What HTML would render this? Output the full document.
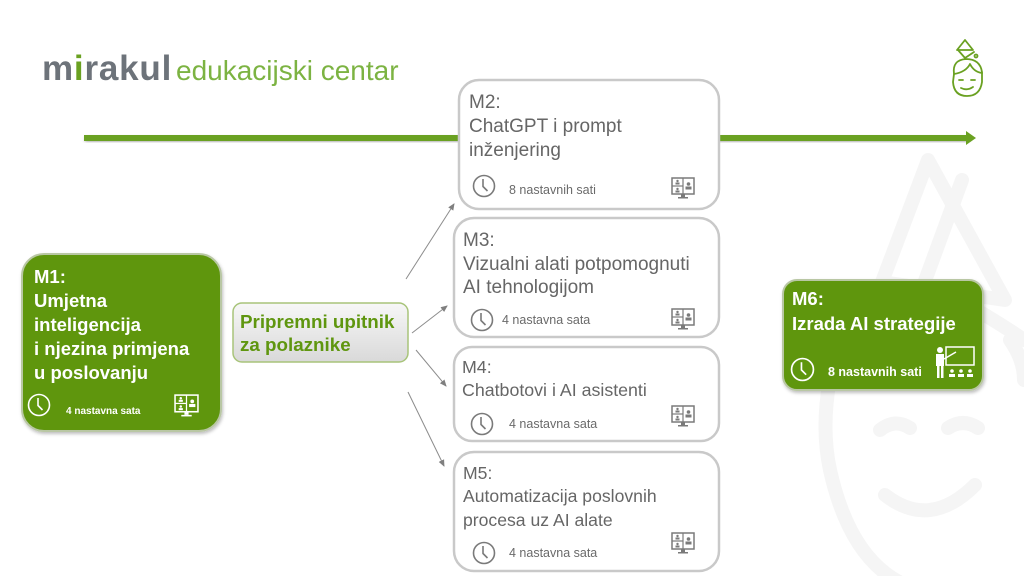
<!DOCTYPE html>
<html><head><meta charset="utf-8"><style>
html,body{margin:0;padding:0;background:#fff;width:1024px;height:576px;overflow:hidden}
svg{display:block}
text{font-family:"Liberation Sans",Arial,sans-serif}
</style></head><body>
<svg width="1024" height="576" viewBox="0 0 1024 576" xmlns="http://www.w3.org/2000/svg">
<defs>
  <symbol id="clk" viewBox="0 0 24 24">
    <circle cx="12" cy="12" r="10.5" fill="none" stroke="currentColor" stroke-width="1.6"/>
    <path d="M11 5 V12.5 L15.5 17" fill="none" stroke="currentColor" stroke-width="1.6"/>
  </symbol>
  <symbol id="mon" viewBox="0 0 24 22">
    <rect x="1" y="1" width="22" height="16" fill="none" stroke="currentColor" stroke-width="1.5"/>
    <line x1="12" y1="1" x2="12" y2="17" stroke="currentColor" stroke-width="1.2"/>
    <line x1="1" y1="9" x2="12" y2="9" stroke="currentColor" stroke-width="1.2"/>
    <circle cx="6.5" cy="4" r="1.2" fill="currentColor"/><rect x="4.5" y="5.5" width="4" height="2" fill="currentColor"/>
    <circle cx="6.5" cy="12" r="1.2" fill="currentColor"/><rect x="4.5" y="13.5" width="4" height="2" fill="currentColor"/>
    <circle cx="17.5" cy="7" r="1.8" fill="currentColor"/><rect x="14.5" y="9.5" width="6" height="3" fill="currentColor"/>
    <rect x="10" y="17" width="4" height="3" fill="currentColor"/><rect x="7" y="20" width="10" height="1.5" fill="currentColor"/>
  </symbol>
  <marker id="ah" markerWidth="8" markerHeight="8" refX="6" refY="4" orient="auto" markerUnits="userSpaceOnUse">
    <path d="M0,1 L7,4 L0,7 Z" fill="#7f7f7f"/>
  </marker>
  <linearGradient id="pg" x1="0" y1="0" x2="0" y2="1">
    <stop offset="0" stop-color="#f7f7f7"/><stop offset="1" stop-color="#d9d9d9"/>
  </linearGradient>
  <filter id="sh" x="-10%" y="-10%" width="120%" height="130%"><feDropShadow dx="1" dy="2" stdDeviation="1.5" flood-color="#000" flood-opacity="0.25"/></filter>
</defs>

<!-- watermark -->
<g fill="none" stroke="#f5f5f5" stroke-width="14" stroke-linejoin="round" stroke-linecap="round">
  <path d="M928 160 L882 282 L1005 300 Z"/>
  <path d="M962 180 L918 300"/>
  <path d="M980 312 Q1010 330 1024 340"/>
  <path d="M850 310 Q815 400 830 470 Q850 560 905 585"/>
  <path d="M1010 340 Q1024 360 1024 380"/>
  <path d="M880 430 Q895 418 910 428"/>
  <path d="M948 428 Q963 418 978 428"/>
  <path d="M885 495 Q930 530 975 485"/>
</g>

<!-- logo -->
<text x="42" y="80" font-size="35" font-weight="bold" fill="#6d737a" letter-spacing="0.8">m<tspan fill="#6aa121">i</tspan>rakul</text>
<text x="176" y="80" font-size="28" fill="#7cb342">edukacijski centar</text>

<!-- top icon -->
<g fill="none" stroke="#6aa121" stroke-width="1.8" stroke-linejoin="round" stroke-linecap="round">
  <path d="M965 40 L957 50 L973 50 Z"/><path d="M958 50 L965 58 L974 52"/><circle cx="976" cy="56" r="1.5"/>
  <path d="M954 74 Q952 60 966 59 Q980 59 982 72 L982 82 Q980 96 967 96 Q954 96 953 82 Z"/>
  <path d="M954 74 Q966 72 970 64 Q974 72 982 73"/>
  <path d="M959 80 L963 80 M971 80 L975 80"/>
  <path d="M961 88 Q967 91 973 87"/>
</g>

<!-- main arrow -->
<rect x="84" y="135" width="884" height="6" fill="#6aa121" filter="url(#sh)"/>
<path d="M966 131 L976 138 L966 145 Z" fill="#6aa121"/>

<!-- M1 -->
<rect x="22" y="254" width="199" height="177" rx="22" fill="#5f960f" stroke="#b9c7a4" stroke-width="2" filter="url(#sh)"/>
<g fill="#fff" font-weight="bold" font-size="18.5">
  <text x="34" y="283">M1:</text>
  <text x="34" y="307">Umjetna</text>
  <text x="34" y="331">inteligencija</text>
  <text x="34" y="355">i njezina primjena</text>
  <text x="34" y="379">u  poslovanju</text>
</g>
<use href="#clk" x="27" y="393" width="24" height="24" color="#fff"/>
<text x="66" y="414" font-size="10" font-weight="bold" fill="#fff">4 nastavna sata</text>
<use href="#mon" x="174" y="394" width="25" height="23" color="#fff"/>

<!-- Pripremni -->
<rect x="233" y="303" width="175" height="59" rx="9" fill="url(#pg)" stroke="#a8c47a" stroke-width="1.5"/>
<text x="240" y="328" font-size="18.8" font-weight="bold" fill="#5f960f">Pripremni upitnik</text>
<text x="240" y="351" font-size="18.8" font-weight="bold" fill="#5f960f">za polaznike</text>

<!-- connectors -->
<g stroke="#8c8c8c" stroke-width="1" marker-end="url(#ah)">
  <line x1="406" y1="279" x2="454" y2="204"/>
  <line x1="412" y1="333" x2="447" y2="306"/>
  <line x1="416" y1="350" x2="446" y2="386"/>
  <line x1="408" y1="392" x2="444" y2="466"/>
</g>

<!-- M2-M5 -->
<g fill="#fff" stroke="#c9c9c9" stroke-width="2.5">
  <rect x="459" y="80" width="260" height="129" rx="20"/>
  <rect x="454" y="218" width="265" height="119" rx="20"/>
  <rect x="454" y="347" width="265" height="94" rx="18"/>
  <rect x="454" y="452" width="265" height="119" rx="20"/>
</g>
<g fill="#666" font-size="19">
  <text x="469" y="108">M2:</text>
  <text x="469" y="132">ChatGPT i prompt</text>
  <text x="469" y="156">inženjering</text>
  <text x="463" y="246">M3:</text>
  <text x="463" y="270">Vizualni alati potpomognuti</text>
  <text x="463" y="293">AI tehnologijom</text>
  <text x="462" y="373" font-size="17.8">M4:</text>
  <text x="462" y="396" font-size="17.8">Chatbotovi i AI asistenti</text>
  <text x="463" y="479" font-size="17.6">M5:</text>
  <text x="463" y="502" font-size="17.6">Automatizacija poslovnih</text>
  <text x="463" y="526" font-size="17.6">procesa uz AI alate</text>
</g>
<g fill="#6a6a6a" font-size="12.5">
  <text x="509" y="194">8 nastavnih sati</text>
  <text x="502" y="324">4 nastavna sata</text>
  <text x="509" y="428">4 nastavna sata</text>
  <text x="509" y="557">4 nastavna sata</text>
</g>
<g color="#7a7a7a">
  <use href="#clk" x="472" y="174" width="24" height="24"/>
  <use href="#clk" x="470" y="308" width="24" height="24"/>
  <use href="#clk" x="470" y="412" width="24" height="24"/>
  <use href="#clk" x="472" y="541" width="24" height="24"/>
  <use href="#mon" x="671" y="177" width="24" height="22"/>
  <use href="#mon" x="671" y="308" width="24" height="22"/>
  <use href="#mon" x="671" y="405" width="24" height="22"/>
  <use href="#mon" x="671" y="532" width="24" height="22"/>
</g>

<!-- M6 -->
<rect x="783" y="280" width="200" height="110" rx="14" fill="#5f960f" stroke="#b9c7a4" stroke-width="2" filter="url(#sh)"/>
<text x="792" y="305" font-size="18.5" font-weight="bold" fill="#fff">M6:</text>
<text x="792" y="330" font-size="18.5" font-weight="bold" fill="#fff">Izrada AI strategije</text>
<use href="#clk" x="790" y="357" width="25" height="25" color="#fff"/>
<text x="828" y="376" font-size="12.5" font-weight="bold" fill="#fff">8 nastavnih sati</text>
<g fill="#fff">
  <rect x="946" y="347" width="28" height="18" fill="none" stroke="#fff" stroke-width="1.5"/>
  <circle cx="940" cy="350" r="3"/>
  <rect x="936" y="354" width="8" height="12"/>
  <rect x="937" y="366" width="2.5" height="12"/><rect x="941" y="366" width="2.5" height="12"/>
  <line x1="944" y1="359" x2="956" y2="352" stroke="#fff" stroke-width="1.5"/>
  <circle cx="952" cy="371" r="1.8"/><rect x="949" y="374" width="6" height="3"/>
  <circle cx="961" cy="371" r="1.8"/><rect x="958" y="374" width="6" height="3"/>
  <circle cx="970" cy="371" r="1.8"/><rect x="967" y="374" width="6" height="3"/>
</g>
</svg>
</body></html>
